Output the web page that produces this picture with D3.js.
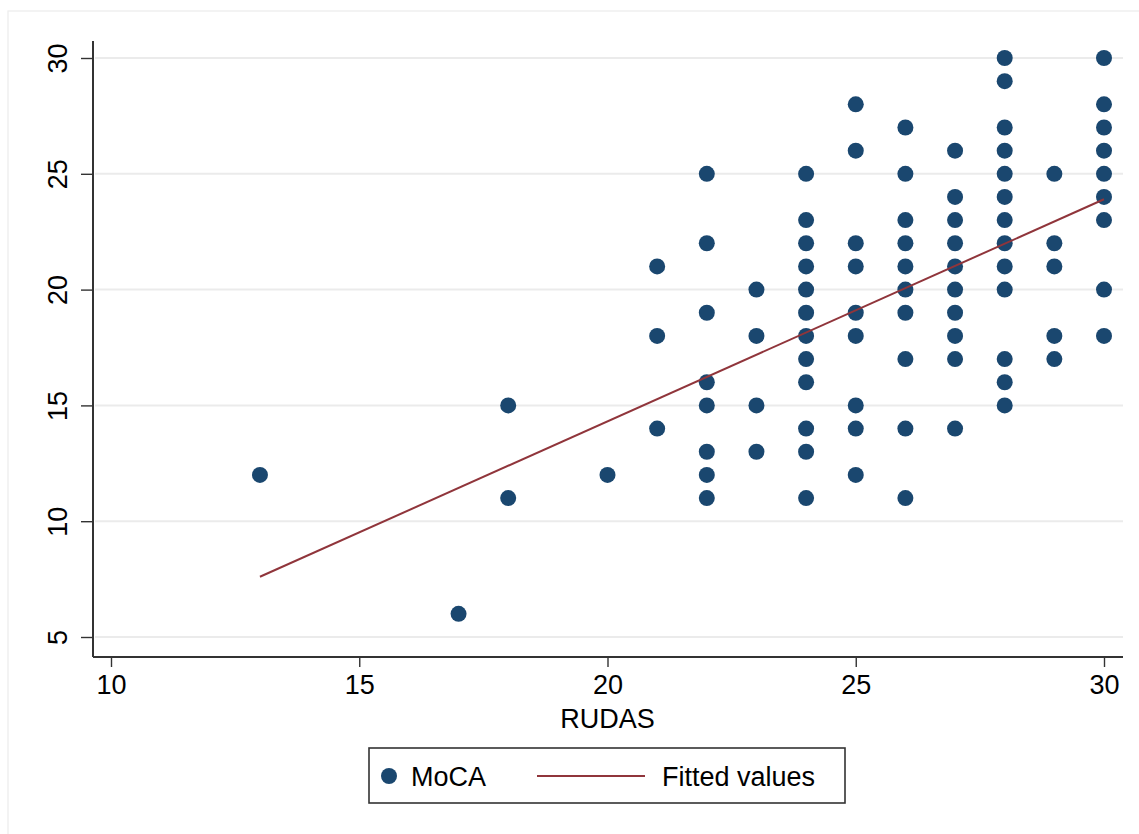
<!DOCTYPE html>
<html>
<head>
<meta charset="utf-8">
<script src="https://cdn.jsdelivr.net/npm/d3@7"></script>
<style>
  html, body { margin: 0; padding: 0; background: #ffffff; }
  svg { display: block; font-family: "Liberation Sans", Arial, Helvetica, sans-serif; }
</style>
</head>
<body>
<svg id="chart" width="1139" height="834"></svg>
<script>
// ---- Data ----
const rudas = [13, 17, 18, 20, 21, 22, 23, 24, 25, 26, 27, 28, 29, 30];
const mocaByRudas = [
  [12],
  [6],
  [15, 11],
  [12],
  [21, 18, 14],
  [25, 22, 19, 16, 15, 13, 12, 11],
  [20, 18, 15, 13],
  [25, 23, 22, 21, 20, 19, 18, 17, 16, 14, 13, 11],
  [28, 26, 22, 21, 19, 18, 15, 14, 12],
  [27, 25, 23, 22, 21, 20, 19, 17, 14, 11],
  [26, 24, 23, 22, 21, 20, 19, 18, 17, 14],
  [30, 29, 27, 26, 25, 24, 23, 22, 21, 20, 17, 16, 15],
  [25, 22, 21, 18, 17],
  [30, 28, 27, 26, 25, 24, 23, 20, 18]
];
const fittedX = [13, 30];
const fittedY = [7.6, 23.9];
const xTicks = [10, 15, 20, 25, 30];
const yTicks = [5, 10, 15, 20, 25, 30];
const xTitle = "RUDAS";
const legendLabels = ["MoCA", "Fitted values"];

// ---- Styles ----
const navy = "#1a476f";
const maroon = "#90353b";
const ink = "#000000";

const svg = d3.select("#chart");

// outer graph-region frame (Stata style)
svg.append("rect").attr("x", 8).attr("y", 11).attr("width", 1200).attr("height", 900)
  .attr("fill", "#ffffff").attr("stroke", "#ececec").attr("stroke-width", 1.2);

const x = d3.scaleLinear().domain([10, 30]).range([111, 1104]);
const y = d3.scaleLinear().domain([5, 30]).range([637, 58]);

const axisLeftX = 93, axisRight = 1123, axisBottomY = 657, axisTop = 41;

// gridlines
svg.append("g").selectAll("line").data(yTicks).join("line")
  .attr("x1", axisLeftX + 2).attr("x2", axisRight)
  .attr("y1", d => y(d)).attr("y2", d => y(d))
  .attr("stroke", "#ebebeb").attr("stroke-width", 2);

// points
const points = [];
rudas.forEach((r, i) => mocaByRudas[i].forEach(m => points.push({ r, m })));
svg.append("g").selectAll("circle").data(points).join("circle")
  .attr("cx", d => x(d.r)).attr("cy", d => y(d.m)).attr("r", 8)
  .attr("fill", navy);

// fitted line
const fitData = fittedX.map((v, i) => [v, fittedY[i]]);
svg.append("path").datum(fitData)
  .attr("d", d3.line().x(d => x(d[0])).y(d => y(d[1])))
  .attr("fill", "none").attr("stroke", maroon).attr("stroke-width", 2);

// x axis
const gx = svg.append("g").attr("transform", `translate(0,${axisBottomY})`)
  .call(d3.axisBottom(x).tickValues(xTicks).tickSize(10).tickPadding(8).tickFormat(d3.format("d")));
gx.select(".domain").remove();
gx.selectAll(".tick line").attr("stroke", "#333").attr("stroke-width", 1.4);
gx.selectAll(".tick text").attr("font-size", 27).attr("fill", ink)
  .attr("font-family", "Liberation Sans, Arial, sans-serif").attr("dy", "0.71em");
svg.append("line").attr("x1", axisLeftX).attr("x2", axisRight)
  .attr("y1", axisBottomY).attr("y2", axisBottomY)
  .attr("stroke", "#333").attr("stroke-width", 2);

// y axis
const gy = svg.append("g").attr("transform", `translate(${axisLeftX},0)`)
  .call(d3.axisLeft(y).tickValues(yTicks).tickSize(12).tickPadding(0).tickFormat(d3.format("d")));
gy.select(".domain").remove();
gy.selectAll(".tick line").attr("stroke", "#333").attr("stroke-width", 1.4);
gy.selectAll(".tick text")
  .attr("x", null).attr("dy", null)
  .attr("transform", "translate(-26,0) rotate(-90)")
  .attr("text-anchor", "middle")
  .attr("font-size", 27).attr("fill", ink)
  .attr("font-family", "Liberation Sans, Arial, sans-serif");
svg.append("line").attr("x1", axisLeftX).attr("x2", axisLeftX)
  .attr("y1", axisTop).attr("y2", axisBottomY)
  .attr("stroke", "#333").attr("stroke-width", 2);

// x title
svg.append("text").attr("x", x(20)).attr("y", 728).attr("text-anchor", "middle")
  .attr("font-size", 27).attr("fill", ink).text(xTitle);

// legend
const lg = svg.append("g");
lg.append("rect").attr("x", 369).attr("y", 748).attr("width", 476).attr("height", 55)
  .attr("fill", "#fff").attr("stroke", "#333").attr("stroke-width", 1.6);
lg.append("circle").attr("cx", 389).attr("cy", 776).attr("r", 8).attr("fill", navy);
lg.append("text").attr("x", 411).attr("y", 786).attr("font-size", 27).attr("fill", ink).text(legendLabels[0]);
lg.append("line").attr("x1", 537).attr("x2", 645).attr("y1", 776).attr("y2", 776)
  .attr("stroke", maroon).attr("stroke-width", 2);
lg.append("text").attr("x", 662).attr("y", 786).attr("font-size", 27).attr("fill", ink).text(legendLabels[1]);
</script>
</body>
</html>
